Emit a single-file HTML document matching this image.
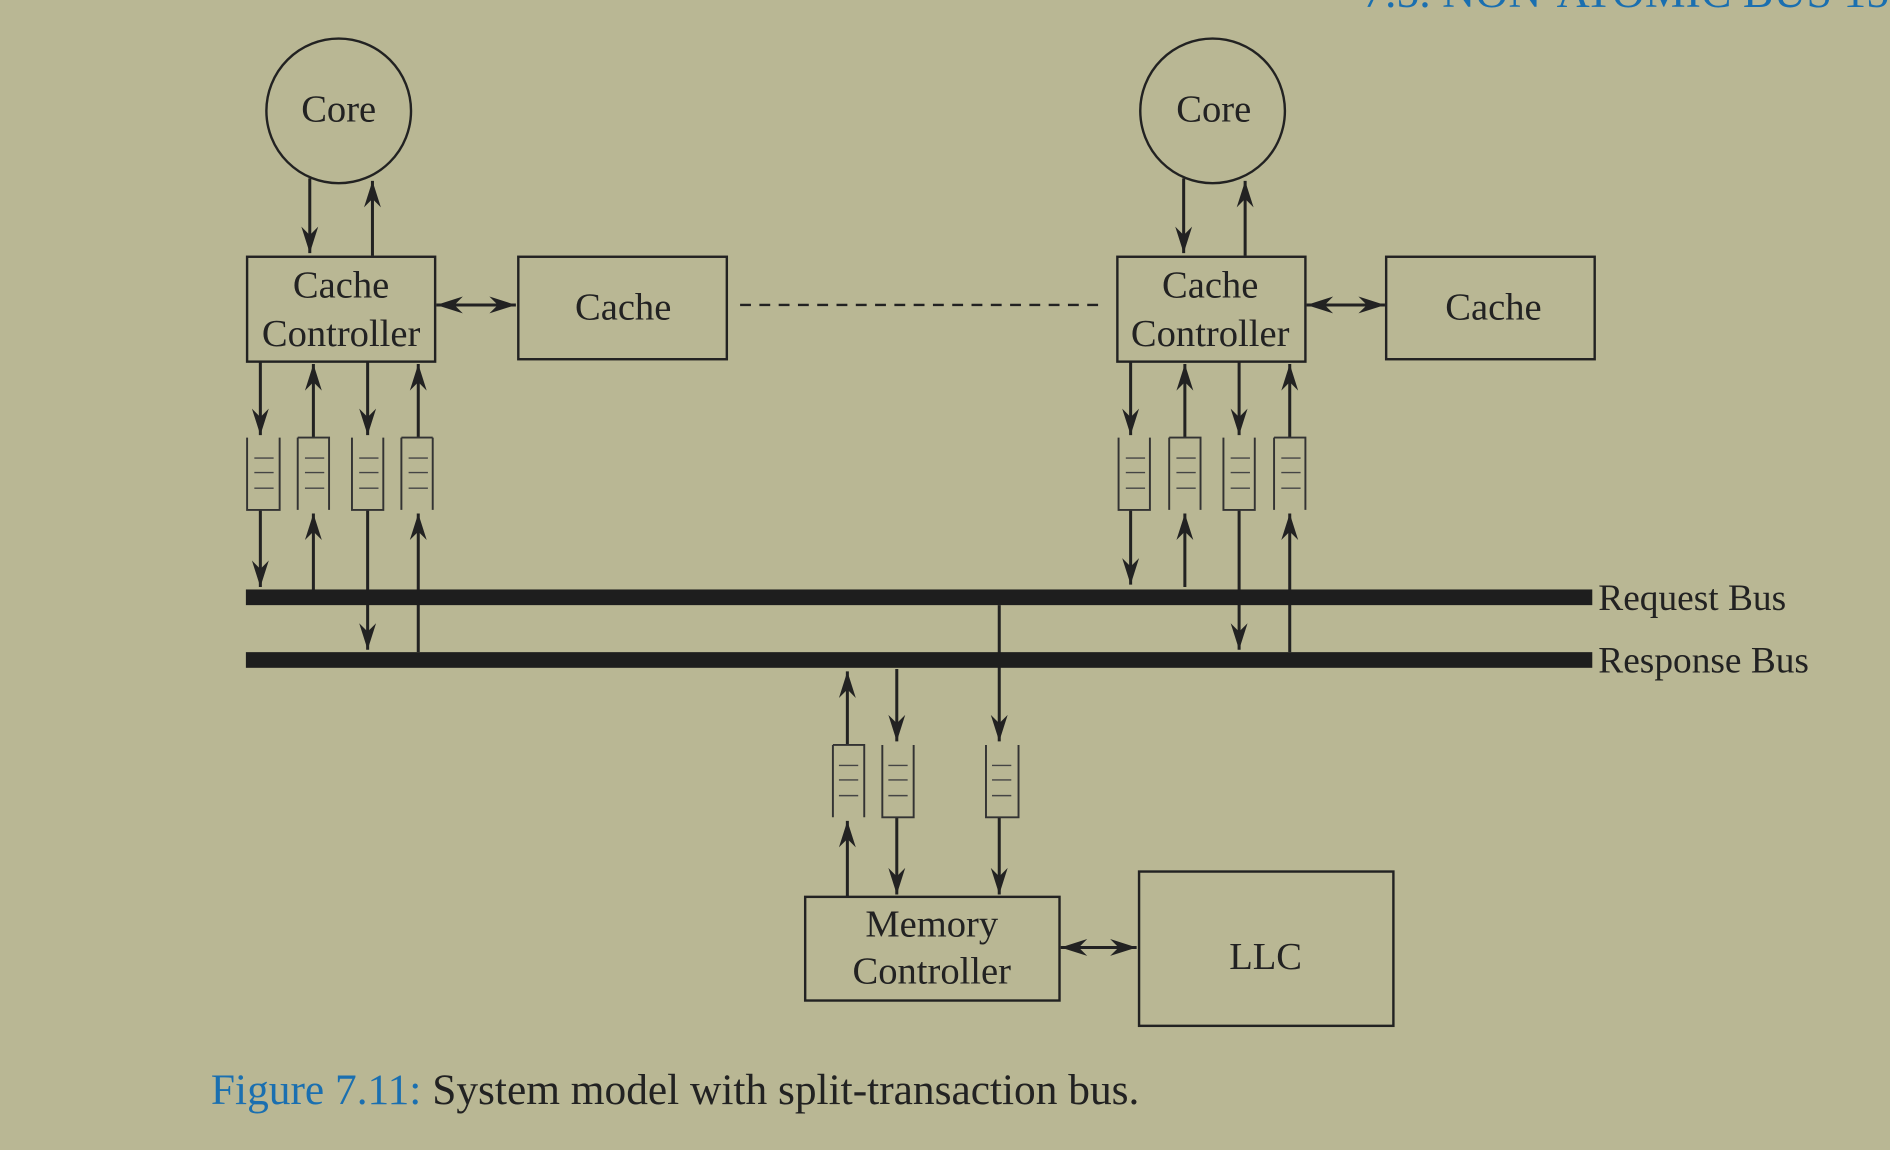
<!DOCTYPE html>
<html><head><meta charset="utf-8"><style>
html,body{margin:0;padding:0;background:#b9b794;}
svg{display:block}
text{font-family:"Liberation Serif",serif;fill:#222;}
</style></head><body>
<svg width="1890" height="1150" viewBox="0 0 1568 954" preserveAspectRatio="none">
<defs>
<marker id="a" viewBox="-26 -10 28 20" refX="0" refY="0" markerWidth="28" markerHeight="20" orient="auto-start-reverse" markerUnits="userSpaceOnUse">
<path d="M-22,-7 L0,0 L-22,7 L-15,0 Z" fill="#222"/>
</marker>
</defs>
<rect width="1568" height="954" fill="#b9b794"/>
<text x="1130" y="6" font-size="38" style="fill:#1a6fb0">7.5. NON-ATOMIC BUS   155</text>
<g stroke="#222" stroke-width="2" fill="none">
<circle cx="281" cy="92" r="60"/>
<circle cx="1006" cy="92" r="60"/>
<rect x="205" y="213" width="156" height="87"/>
<rect x="430" y="213" width="173" height="85"/>
<rect x="927" y="213" width="156" height="87"/>
<rect x="1150" y="213" width="173" height="85"/>
<rect x="668" y="744" width="211" height="86"/>
<rect x="945" y="723" width="211" height="128"/>
<line x1="614" y1="253" x2="912" y2="253" stroke-dasharray="9,7"/>
</g>
<g stroke="#222" stroke-width="2.5" fill="none" marker-end="url(#a)">
<line x1="257" y1="148" x2="257" y2="210"/>
<line x1="309" y1="212" x2="309" y2="150"/>
<line x1="982" y1="148" x2="982" y2="210"/>
<line x1="1033" y1="212" x2="1033" y2="150"/>
<line x1="362" y1="253" x2="428" y2="253" marker-start="url(#a)"/>
<line x1="1084" y1="253" x2="1149" y2="253" marker-start="url(#a)"/>
<line x1="880" y1="786" x2="943" y2="786" marker-start="url(#a)"/>
<line x1="216" y1="300" x2="216" y2="361"/>
<line x1="260" y1="363" x2="260" y2="302"/>
<line x1="305" y1="300" x2="305" y2="361"/>
<line x1="347" y1="363" x2="347" y2="302"/>
<line x1="216" y1="423" x2="216" y2="487"/>
<line x1="260" y1="489" x2="260" y2="426"/>
<line x1="305" y1="423" x2="305" y2="539"/>
<line x1="347" y1="541" x2="347" y2="426"/>
<line x1="938" y1="300" x2="938" y2="361"/>
<line x1="983" y1="363" x2="983" y2="302"/>
<line x1="1028" y1="300" x2="1028" y2="361"/>
<line x1="1070" y1="363" x2="1070" y2="302"/>
<line x1="938" y1="423" x2="938" y2="485"/>
<line x1="983" y1="487" x2="983" y2="426"/>
<line x1="1028" y1="423" x2="1028" y2="539"/>
<line x1="1070" y1="541" x2="1070" y2="426"/>
<line x1="829" y1="502" x2="829" y2="615"/>
<line x1="703" y1="618" x2="703" y2="557"/>
<line x1="744" y1="555" x2="744" y2="615"/>
<line x1="703" y1="744" x2="703" y2="681"/>
<line x1="744" y1="678" x2="744" y2="742"/>
<line x1="829" y1="678" x2="829" y2="742"/>
</g>
<rect x="204" y="489" width="1117" height="13" fill="#1e1e1e"/>
<rect x="204" y="541" width="1117" height="13" fill="#1e1e1e"/>
<g fill="none" stroke-width="1.6">
<g stroke="#333">
<path d="M205,363 V423 H232 V363"/><path d="M247,363 H273 V423 M247,363 V423" /><path d="M292,363 V423 H318 V363"/><path d="M333,363 V423 M359,363 V423 M333,363 H359"/>
<path d="M928,363 V423 H954 V363"/><path d="M970,363 H996 V423 M970,363 V423"/><path d="M1015,363 V423 H1041 V363"/><path d="M1057,363 H1083 V423 M1057,363 V423"/>
<path d="M691,618 H717 V678 M691,618 V678"/><path d="M732,618 V678 H758 V618"/><path d="M818,618 V678 H845 V618"/>
</g>
<g stroke="#444" stroke-width="1.2">
<path d="M211,380h16M211,392h16M211,405h16 M253,380h16M253,392h16M253,405h16 M298,380h16M298,392h16M298,405h16 M339,380h16M339,392h16M339,405h16"/>
<path d="M934,380h16M934,392h16M934,405h16 M976,380h16M976,392h16M976,405h16 M1021,380h16M1021,392h16M1021,405h16 M1063,380h16M1063,392h16M1063,405h16"/>
<path d="M696,635h16M696,647h16M696,660h16 M737,635h16M737,647h16M737,660h16 M823,635h16M823,647h16M823,660h16"/>
</g>
</g>
<g font-size="32" text-anchor="middle">
<text x="281" y="101">Core</text>
<text x="1007" y="101">Core</text>
<text x="283" y="247">Cache</text>
<text x="283" y="287">Controller</text>
<text x="517" y="265">Cache</text>
<text x="1004" y="247">Cache</text>
<text x="1004" y="287">Controller</text>
<text x="1239" y="265">Cache</text>
<text x="773" y="777">Memory</text>
<text x="773" y="816">Controller</text>
<text x="1050" y="804">LLC</text>
</g>
<g font-size="31">
<text x="1326" y="506">Request Bus</text>
<text x="1326" y="558">Response Bus</text>
<text x="175" y="916" font-size="36"><tspan style="fill:#1a6fb0">Figure 7.11:</tspan> System model with split-transaction bus.</text>
</g>
</svg>
</body></html>
